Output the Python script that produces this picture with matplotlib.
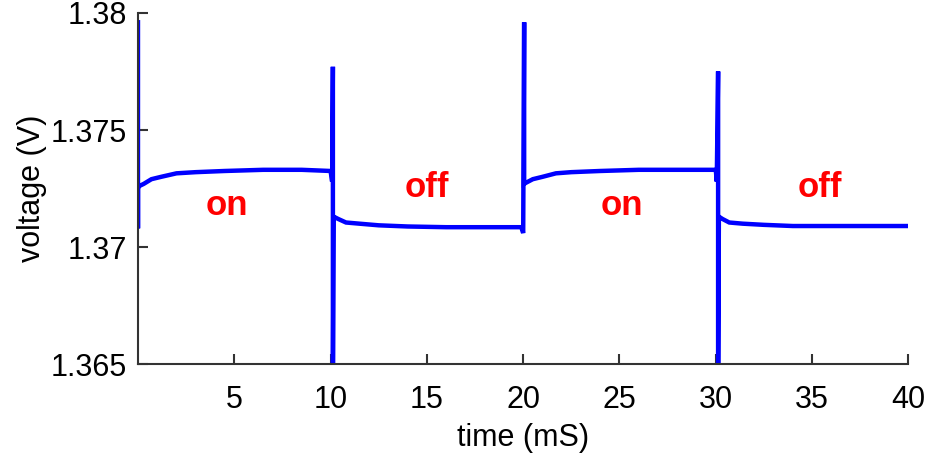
import matplotlib
matplotlib.use('Agg')
import matplotlib.pyplot as plt

t_ms = [0.00, 0.00, 0.00, 0.05, 0.3, 0.7, 1.2, 2.0, 3.0, 4.5, 6.5, 8.5,
        10.0, 10.08, 10.12, 10.12, 10.16, 10.4, 10.8, 11.5, 12.5, 14.0,
        16.0, 18.0, 19.9, 20.0, 20.05, 20.05, 20.15, 20.5, 21.0, 21.7,
        22.5, 24.0, 26.0, 28.0, 30.0, 30.05, 30.12, 30.12, 30.16, 30.35,
        30.7, 31.4, 32.5, 34.0, 36.0, 38.0, 40.0]
v_volt = [1.3796, 1.3708, 1.3725, 1.3726, 1.3727, 1.3729, 1.3730, 1.37315,
          1.3732, 1.37325, 1.3733, 1.3733,
          1.37325, 1.3728, 1.3777, 1.3640, 1.3713, 1.3712, 1.37105, 1.3710,
          1.37093, 1.37088, 1.37085, 1.37085, 1.37085, 1.3706, 1.3796,
          1.3727, 1.37275, 1.3729, 1.3730, 1.37315, 1.3732, 1.37325, 1.3733,
          1.3733, 1.3733, 1.3728, 1.3775, 1.3640, 1.3713, 1.3712, 1.37105,
          1.3710, 1.37095, 1.3709, 1.3709, 1.3709, 1.3709]

phase_labels = ['on', 'off', 'on', 'off']
phase_x = [4.6, 15.0, 25.1, 35.4]
phase_y = [1.37137, 1.37214, 1.37137, 1.37214]

xticks = [5, 10, 15, 20, 25, 30, 35, 40]
yticks = [1.365, 1.37, 1.375, 1.38]
ytick_labels = ['1.365', '1.37', '1.375', '1.38']

plt.rcParams['font.family'] = ['Liberation Sans', 'DejaVu Sans']

fig = plt.figure(figsize=(9.26, 4.61), dpi=100)
ax = fig.add_axes([0.149, 0.210, 0.832, 0.762])

ax.plot(t_ms, v_volt, color='#0000ff', lw=3.2, solid_joinstyle='miter')

for lab, x, y in zip(phase_labels, phase_x, phase_y):
    ax.text(x, y, lab, color='#ff0000', fontsize=25, fontweight='bold',
            ha='center', va='baseline')

ax.set_xlim(0, 40)
ax.set_ylim(1.365, 1.38)
ax.set_xticks(xticks)
ax.set_yticks(yticks)
ax.set_yticklabels(ytick_labels)

for s in ['top', 'right']:
    ax.spines[s].set_visible(False)
for s in ['left', 'bottom']:
    ax.spines[s].set_color('#333333')
    ax.spines[s].set_linewidth(1.5)

ax.tick_params(axis='both', direction='in', length=7, width=1.5,
               color='#333333', labelsize=22)
ax.tick_params(axis='x', pad=15)
ax.tick_params(axis='y', pad=8)

ax.set_xlabel('time (mS)', fontsize=22, labelpad=6)
ax.set_ylabel('voltage (V)', fontsize=22, labelpad=2.5)

fig.savefig('out.png', dpi=100)
